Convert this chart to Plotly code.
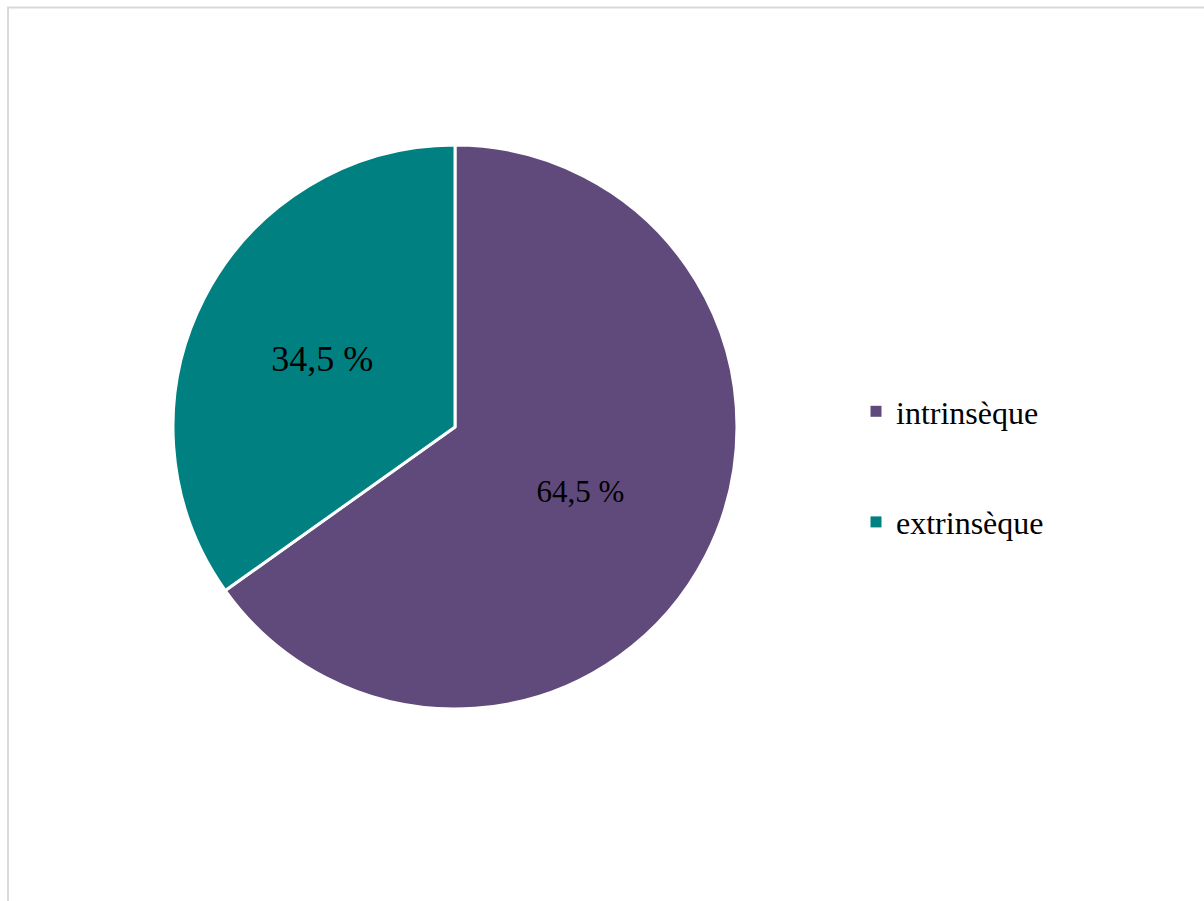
import plotly.graph_objects as go

labels = ["intrinsèque", "extrinsèque"]
values = [64.5, 34.5]
text_labels = ["64,5 %", "34,5 %"]
colors = ["#604A7B", "#008080"]

W, H = 1204, 901
fig = go.Figure()

fig.add_trace(go.Pie(
    labels=labels,
    values=values,
    text=text_labels,
    textinfo="text",
    textposition="inside",
    insidetextorientation="horizontal",
    sort=False,
    direction="clockwise",
    rotation=0,
    marker=dict(colors=colors, line=dict(color="white", width=3)),
    textfont=dict(family="Liberation Serif", size=[31, 36], color="black"),
    domain=dict(x=[173 / W, 737 / W], y=[1 - 709 / H, 1 - 145 / H]),
    showlegend=False,
    hoverinfo="label+percent",
))

# legend entries
for i, (lab, col) in enumerate(zip(labels, colors)):
    fig.add_trace(go.Scatter(
        x=[None], y=[None], mode="markers", name=lab,
        marker=dict(symbol="square", size=11, color=col),
        legendgroup=lab, showlegend=True,
    ))

fig.update_layout(
    width=W, height=H,
    margin=dict(l=0, r=0, t=0, b=0),
    paper_bgcolor="white",
    plot_bgcolor="white",
    xaxis=dict(visible=False),
    yaxis=dict(visible=False),
    legend=dict(
        x=856 / W, xanchor="left",
        y=1 - 467 / H, yanchor="middle",
        font=dict(family="Liberation Serif", size=32, color="black"),
        tracegroupgap=66,
        bgcolor="rgba(0,0,0,0)",
    ),
    shapes=[dict(
        type="rect", xref="paper", yref="paper",
        x0=8 / W, x1=1.05, y0=-0.05, y1=1 - 7.5 / H,
        line=dict(color="#d9d9d9", width=2),
        fillcolor="rgba(0,0,0,0)", layer="below",
    )],
)

fig.write_html("out.html")
